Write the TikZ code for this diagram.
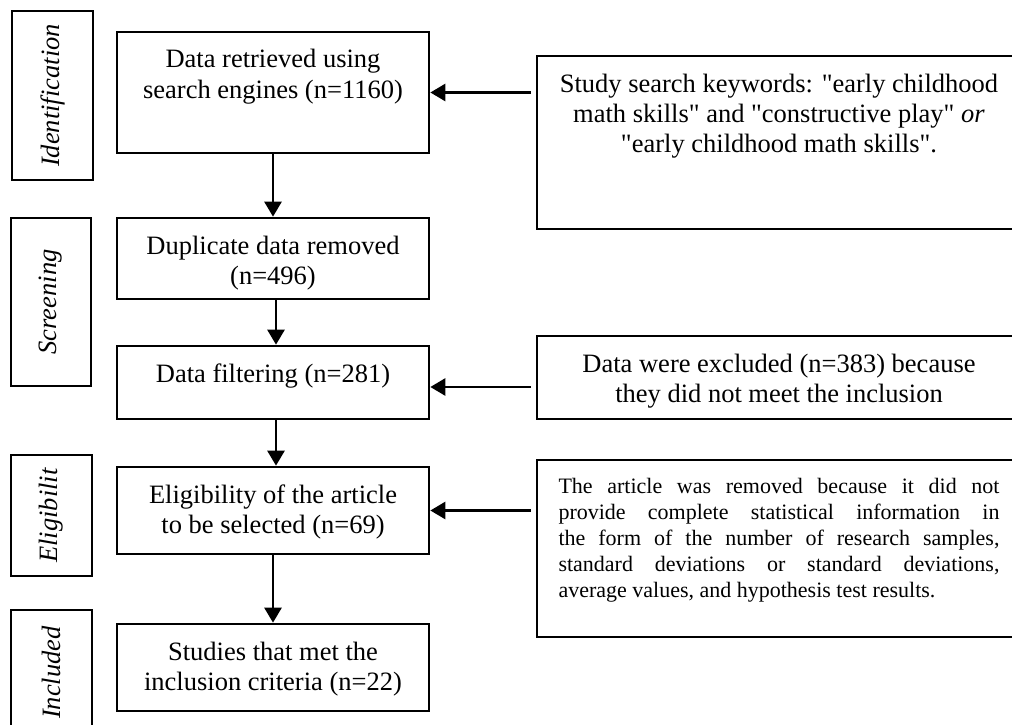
\documentclass[tikz,border=0pt]{standalone}
\usepackage{fontspec}
\setmainfont{Liberation Serif}[Ligatures=TeXOff]
\usetikzlibrary{arrows.meta,calc}
\newcommand{\bxt}[3]{\parbox[c][#2][t]{#1}{\centering\rule{0pt}{36pt}#3}}
\begin{document}
\begin{tikzpicture}[x=1pt,y=-1pt,
  every node/.style={font=\fontsize{26.5}{30}\selectfont},
  mainbox/.style={draw, line width=2.7pt, inner sep=0pt},
  sidebox/.style={draw, line width=2.7pt, inner sep=0pt, rotate=90, font=\fontsize{26.5}{30}\selectfont\itshape},
  arr/.style={line width=2.7pt, -{Triangle[width=17pt,length=15pt]}}]
\useasboundingbox (0,0) rectangle (1012,725);
% side labels
\node[sidebox, minimum width=169pt, minimum height=81pt] (l1) at (52.5,95.5) {Identification};
\node[sidebox, minimum width=168pt, minimum height=80pt] (l2) at (51,302) {Screening};
\node[sidebox, minimum width=121pt, minimum height=81pt] (l3) at (51.5,515.5) {Eligibilit};
\node[sidebox, minimum width=125pt, minimum height=81pt] (l4) at (51.5,672.5) {Included};
% main boxes
\node[mainbox] (m1) at (273,92.5) {\bxt{312pt}{121pt}{Data retrieved using\\search engines (n=1160)}};
\node[mainbox] (m2) at (273,258.5) {\bxt{312pt}{81pt}{Duplicate data removed\\(n=496)}};
\node[mainbox] (m3) at (273,382.5) {\bxt{312pt}{73pt}{Data filtering (n=281)}};
\node[mainbox] (m4) at (273,510.5) {\bxt{312pt}{87pt}{Eligibility of the article\\to be selected (n=69)}};
\node[mainbox] (m5) at (273,667.5) {\bxt{312pt}{87pt}{Studies that met the\\inclusion criteria (n=22)}};
% right boxes
\node[mainbox] (r1) at (779,142.5) {\bxt{484pt}{173pt}{Study search keywords: "early childhood\\math skills" and "constructive play" \textit{or}\\"early childhood math skills".}};
\node[mainbox] (r2) at (779,377.5) {\bxt{484pt}{83pt}{Data were excluded (n=383) because\\they did not meet the inclusion}};
\node[mainbox] (r3) at (779,548.5) {\parbox[c][177pt][t]{484pt}{\leftskip=21.5pt\rightskip=21.5pt\fontsize{22}{26}\selectfont\rule{0pt}{33pt}The article was removed because it did not\linebreak provide complete statistical information in\linebreak the form of the number of research samples,\linebreak standard deviations or standard deviations,\linebreak average values, and hypothesis test results.}};
% arrows
\draw[arr] (m1.south) -- (m2.north);
\draw[arr] ([xshift=3pt]m2.south) -- ([xshift=3pt]m3.north);
\draw[arr] ([xshift=3pt]m3.south) -- ([xshift=3pt]m4.north);
\draw[arr] (m4.south) -- (m5.north);
\draw[arr] ($(r1.west |- m1.east)+(-5,0)$) -- (m1.east);
\draw[arr] ($(r2.west |- m3.east)+(-5,4.5)$) -- ([yshift=-4.5pt]m3.east);
\draw[arr] ($(r3.west |- m4.east)+(-5,0)$) -- (m4.east);
\end{tikzpicture}
\end{document}
